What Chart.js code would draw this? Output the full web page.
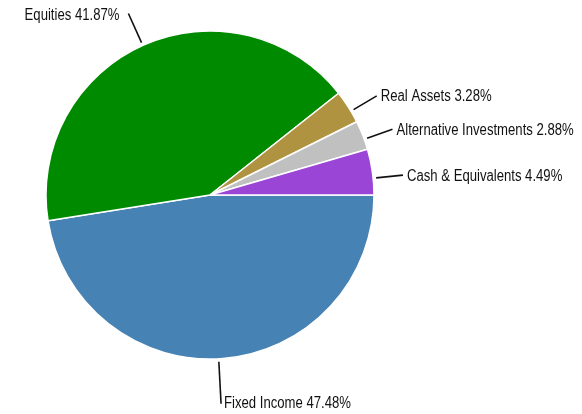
<!DOCTYPE html>
<html>
<head>
<meta charset="utf-8">
<script src="https://cdn.jsdelivr.net/npm/chart.js@4.4.1/dist/chart.umd.min.js"></script>
<style>
  html, body { margin: 0; padding: 0; background: #fff; }
  #wrap { width: 582px; height: 414px; }
</style>
</head>
<body>
<div id="wrap"><canvas id="grafico"></canvas></div>
<script>
// Distribución de activos (sentido horario desde las 3 en punto)
const categorias = ['Fixed Income', 'Equities', 'Real Assets', 'Alternative Investments', 'Cash & Equivalents'];
const porcentajes = [47.48, 41.87, 3.28, 2.88, 4.49];
const colores = ['#4682b4', '#008a00', '#b09340', '#c0c0c0', '#9b45d6'];

// Ajuste de las etiquetas: desvío del ángulo (grados) y largo de la línea guía
const desvioEtiqueta = [1.5, -0.5, 1.7, 1.5, 2.2];
const largoGuia = [45, 35, 30, 30, 30];

// Fuente angosta simulada: se escala el texto en horizontal
const FUENTE = '16px "Liberation Sans", Arial, sans-serif';
const ESCALA_X = 0.82;

function textoAngosto(ctx, texto, x, y, alineacion) {
    const ancho = ctx.measureText(texto).width * ESCALA_X;
    const x0 = alineacion === 'right' ? x - ancho : x;
    ctx.save();
    ctx.translate(x0, y);
    ctx.scale(ESCALA_X, 1);
    ctx.textAlign = 'left';
    ctx.fillText(texto, 0, 0);
    ctx.restore();
}

// Plugin para dibujar etiquetas externas con línea guía
const etiquetasExternas = {
    id: 'etiquetasExternas',
    afterDatasetsDraw(chart) {
        const ctx = chart.ctx;
        const meta = chart.getDatasetMeta(0);
        ctx.save();
        ctx.font = FUENTE;
        ctx.fillStyle = '#111';
        ctx.strokeStyle = '#111';
        ctx.lineWidth = 1.6;
        ctx.textBaseline = 'middle';

        meta.data.forEach((arco, i) => {
            const { x, y, startAngle, endAngle, outerRadius } = arco.getProps(['x', 'y', 'startAngle', 'endAngle', 'outerRadius'], true);
            const medio = (startAngle + endAngle) / 2 + desvioEtiqueta[i] * Math.PI / 180;
            const dx = Math.cos(medio), dy = Math.sin(medio);
            const x1 = x + (outerRadius + 3) * dx, y1 = y + (outerRadius + 3) * dy;
            const x2 = x + (outerRadius + largoGuia[i]) * dx, y2 = y + (outerRadius + largoGuia[i]) * dy;

            ctx.beginPath();
            ctx.moveTo(x1, y1);
            ctx.lineTo(x2, y2);
            ctx.stroke();

            const texto = `${categorias[i]} ${porcentajes[i].toFixed(2)}%`;
            if (dy > 0.9) {
                // etiqueta de abajo
                textoAngosto(ctx, texto, x2 + 3, y2, 'left');
            } else if (dx < 0) {
                textoAngosto(ctx, texto, x2 - 9, y2 + 2, 'right');
            } else {
                textoAngosto(ctx, texto, x2 + 4, y2 + 1, 'left');
            }
        });
        ctx.restore();
    }
};

const ctx = document.getElementById('grafico').getContext('2d');

new Chart(ctx, {
    type: 'pie',
    data: {
        labels: categorias,
        datasets: [{
            data: porcentajes,
            backgroundColor: colores,
            borderColor: '#fff',
            borderWidth: 1.5
        }]
    },
    options: {
        responsive: true,
        maintainAspectRatio: false,
        animation: false,
        rotation: 90,
        radius: 164,
        layout: {
            padding: { left: 0, right: 162, top: 0, bottom: 24 }
        },
        plugins: {
            legend: { display: false },
            tooltip: { enabled: false }
        }
    },
    plugins: [etiquetasExternas]
});
</script>
</body>
</html>
